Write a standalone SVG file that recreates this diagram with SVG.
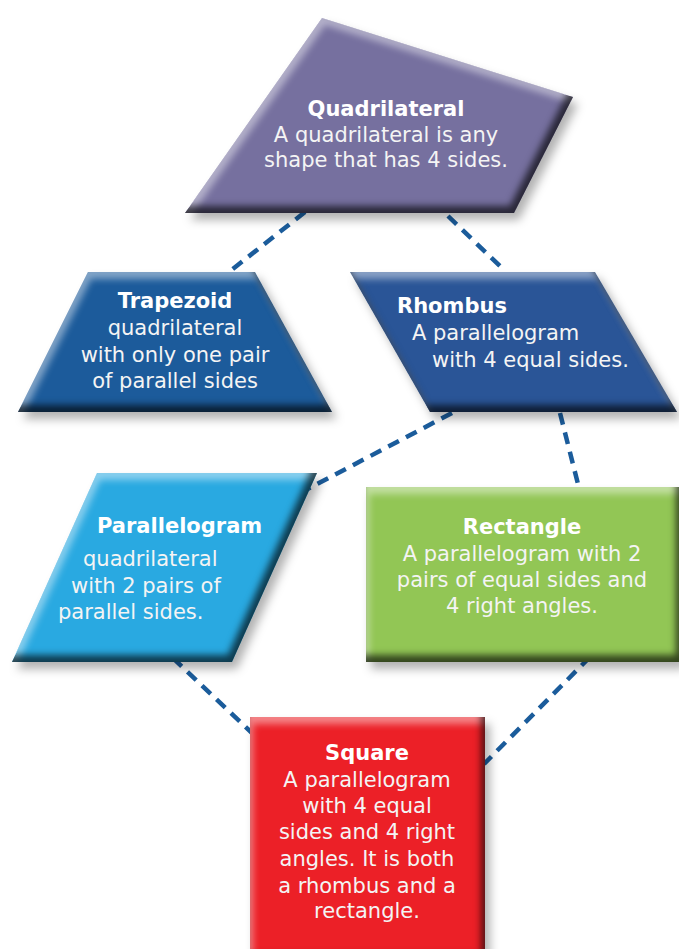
<svg xmlns="http://www.w3.org/2000/svg" width="679" height="949" viewBox="0 0 679 949">
<defs>
<filter id="bevel" x="-10%" y="-10%" width="125%" height="130%" color-interpolation-filters="sRGB">
  <feGaussianBlur in="SourceAlpha" stdDeviation="3.5" result="b"/>
  <feOffset in="b" dx="-4" dy="-7" result="ob"/>
  <feComposite in="SourceAlpha" in2="ob" operator="arithmetic" k2="1" k3="-1" result="darkMask"/>
  <feFlood flood-color="#000" flood-opacity="0.65"/>
  <feComposite in2="darkMask" operator="in" result="dark"/>
  <feOffset in="b" dx="3" dy="7" result="ob2"/>
  <feComposite in="SourceAlpha" in2="ob2" operator="arithmetic" k2="1" k3="-1" result="lightMask"/>
  <feFlood flood-color="#fff" flood-opacity="0.45"/>
  <feComposite in2="lightMask" operator="in" result="light"/>
  <feGaussianBlur in="SourceAlpha" stdDeviation="5" result="sb"/>
  <feOffset in="sb" dx="5" dy="7" result="so"/>
  <feFlood flood-color="#000" flood-opacity="0.3"/>
  <feComposite in2="so" operator="in" result="shadow"/>
  <feMerge>
    <feMergeNode in="shadow"/>
    <feMergeNode in="SourceGraphic"/>
    <feMergeNode in="light"/>
    <feMergeNode in="dark"/>
  </feMerge>
</filter>
</defs>
<style>
  .t { font-family: "DejaVu Sans", Verdana, sans-serif; font-size: 21px; fill: #f4f4f4; }
  .h { font-weight: bold; fill: #ffffff; }
  .c { text-anchor: middle; }
  .conn { stroke: #1b5c9b; stroke-width: 4.5; stroke-dasharray: 12 8; fill: none; }
</style>
<rect width="679" height="949" fill="#ffffff"/>
<g id="connectors">
  <line class="conn" x1="305" y1="212" x2="229" y2="272"/>
  <line class="conn" x1="448" y1="216" x2="504" y2="270"/>
  <line class="conn" x1="452" y1="413" x2="302" y2="492"/>
  <line class="conn" x1="560" y1="413" x2="579" y2="488"/>
  <line class="conn" x1="173" y1="658" x2="252" y2="733"/>
  <line class="conn" x1="590" y1="657" x2="484" y2="764"/>
</g>
<g id="quadrilateral">
  <polygon points="322,18 573,97 514,213 185,213" fill="#76709f" filter="url(#bevel)"/>
  <text class="t c h" x="386" y="116">Quadrilateral</text>
  <text class="t c" x="386" y="142">A quadrilateral is any</text>
  <text class="t c" x="386" y="167">shape that has 4 sides.</text>
</g>
<g id="trapezoid">
  <polygon points="88,272 255,272 332,412 18,412" fill="#1c5b9b" filter="url(#bevel)"/>
  <text class="t c h" x="175" y="308">Trapezoid</text>
  <text class="t c" x="175" y="335">quadrilateral</text>
  <text class="t c" x="175" y="362">with only one pair</text>
  <text class="t c" x="175" y="388">of parallel sides</text>
</g>
<g id="rhombus">
  <polygon points="350,272 595,272 677,412 430,412" fill="#2a5597" filter="url(#bevel)"/>
  <text class="t h" x="397" y="313">Rhombus</text>
  <text class="t" x="412" y="340">A parallelogram</text>
  <text class="t" x="432" y="367">with 4 equal sides.</text>
</g>
<g id="parallelogram">
  <polygon points="97,473 317,473 232,662 12,662" fill="#29a9e1" filter="url(#bevel)"/>
  <text class="t h" x="97" y="533">Parallelogram</text>
  <text class="t" x="83" y="566">quadrilateral</text>
  <text class="t" x="71" y="593">with 2 pairs of</text>
  <text class="t" x="58" y="619">parallel sides.</text>
</g>
<g id="rectangle">
  <polygon points="366,487 680,487 680,662 366,662" fill="#92c655" filter="url(#bevel)"/>
  <text class="t c h" x="522" y="534">Rectangle</text>
  <text class="t c" x="522" y="561">A parallelogram with 2</text>
  <text class="t c" x="522" y="587">pairs of equal sides and</text>
  <text class="t c" x="522" y="613">4 right angles.</text>
</g>
<g id="square">
  <polygon points="250,717 485,717 485,962 250,962" fill="#ec2027" filter="url(#bevel)"/>
  <text class="t c h" x="367" y="760">Square</text>
  <text class="t c" x="367" y="787">A parallelogram</text>
  <text class="t c" x="367" y="813">with 4 equal</text>
  <text class="t c" x="367" y="839">sides and 4 right</text>
  <text class="t c" x="367" y="866">angles. It is both</text>
  <text class="t c" x="367" y="893">a rhombus and a</text>
  <text class="t c" x="367" y="918">rectangle.</text>
</g>
</svg>
